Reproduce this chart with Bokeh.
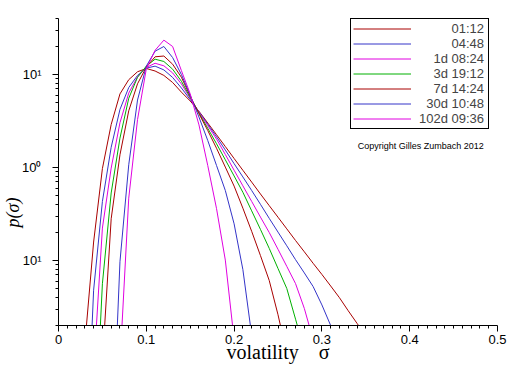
from bokeh.plotting import figure
from bokeh.models import FixedTicker, Label, Legend, LegendItem
from bokeh.embed import file_html
from bokeh.resources import INLINE

# volatility grid
sigma = [0.03, 0.04, 0.05, 0.06, 0.07, 0.08, 0.09, 0.10, 0.11, 0.12, 0.13,
         0.14, 0.15, 0.16, 0.17, 0.18, 0.19, 0.20, 0.21, 0.22, 0.23, 0.24,
         0.25, 0.26, 0.27, 0.28, 0.29, 0.30, 0.31, 0.32, 0.33, 0.34, 0.35]

# p(sigma) for each time horizon
p_01h12 = [0.0126, 0.158, 0.973, 2.90, 6.18, 8.79, 10.7, 11.6, 10.9, 9.77, 8.20,
           6.46, 5.19, 4.02, 3.01, 2.25, 1.68, 1.25, 0.933, 0.697, 0.519, 0.389,
           0.292, 0.219, 0.164, 0.124, 0.0933, 0.0708, 0.0532, 0.0398, 0.0288, 0.0211, 0.0155]
p_04h48 = [0.000316, 0.0479, 0.431, 1.65, 4.21, 7.24, 9.77, 11.7, 12.3, 11.2, 9.29,
           7.16, 5.37, 3.98, 2.92, 2.14, 1.54, 1.10, 0.791, 0.566, 0.402, 0.284,
           0.202, 0.144, 0.102, 0.0735, 0.0525, 0.0333, 0.0200, 0.0112, 0.005, 0.002, 0.001]
p_1d = [0.0001, 0.00646, 0.223, 0.986, 3.03, 6.31, 9.44, 11.9, 13.2, 12.4, 10.4,
        7.91, 5.55, 3.93, 2.82, 2.02, 1.38, 0.935, 0.635, 0.432, 0.293, 0.200,
        0.132, 0.0865, 0.0564, 0.0305, 0.0141, 0.0063, 0.002, 0.001, 0.0005, 0.0002, 0.0001]
p_3d = [0.0001, 0.00063, 0.0562, 0.532, 2.07, 5.55, 9.33, 12.3, 14.6, 13.8, 11.4,
        8.45, 5.68, 3.85, 2.64, 1.80, 1.21, 0.811, 0.541, 0.342, 0.216, 0.135,
        0.082, 0.0501, 0.0234, 0.0107, 0.005, 0.002, 0.001, 0.0005, 0.0002, 0.0001, 0.0001]
p_7d = [0.0001, 0.0001, 0.00794, 0.281, 1.37, 4.07, 7.94, 12.0, 15.5, 15.8, 12.9,
        9.33, 5.86, 3.78, 2.50, 1.61, 1.01, 0.631, 0.365, 0.206, 0.113, 0.061,
        0.0261, 0.01, 0.004, 0.001, 0.0001, 0.0001, 0.0001, 0.0001, 0.0001, 0.0001, 0.0001]
p_30d = [0.0001, 0.0001, 0.0001, 0.0005, 0.097, 1.07, 5.31, 12.3, 17.8, 20.0, 15.2,
         9.98, 6.0, 3.48, 1.95, 1.05, 0.566, 0.248, 0.0798, 0.0158, 0.00316, 0.0001,
         0.0001, 0.0001, 0.0001, 0.0001, 0.0001, 0.0001, 0.0001, 0.0001, 0.0001, 0.0001, 0.0001]
p_102d = [0.0001, 0.0001, 0.0001, 0.0001, 0.00776, 0.468, 3.27, 11.5, 18.2, 23.4, 20.0,
          11.0, 6.19, 2.87, 1.05, 0.361, 0.101, 0.0141, 0.001, 0.0001, 0.0001, 0.0001,
          0.0001, 0.0001, 0.0001, 0.0001, 0.0001, 0.0001, 0.0001, 0.0001, 0.0001, 0.0001, 0.0001]

series = [p_01h12, p_04h48, p_1d, p_3d, p_7d, p_30d, p_102d]
series_labels = ["01:12", "04:48", "1d 08:24", "3d 19:12", "7d 14:24", "30d 10:48", "102d 09:36"]
# leading figure spaces right-align the legend texts
label_pads = ["\u2007\u2007\u2007\u2007\u2008", "\u2007\u2007\u2007\u2007\u2008",
              "\u2007\u2007", "\u2007\u2007", "\u2007\u2007", "\u2007", ""]
series_colors = ["#a80000", "#3434c8", "#e000e0", "#00b000", "#a80000", "#3434c8", "#e000e0"]

x_ticks = [0, 0.1, 0.2, 0.3, 0.4, 0.5]
x_tick_labels = ["0", "0.1", "0.2", "0.3", "0.4", "0.5"]
x_minor = [i / 100 for i in range(1, 50) if i % 10]
y_ticks = [0.1, 1, 10]
y_tick_labels = ["10\u00b9", "10\u2070", "10\u00b9"]
y_minor = [k * m for m in (0.01, 0.1, 1, 10) for k in range(2, 10) if 0.02 <= k * m <= 40.0001]

x_title = "volatility\u2002\u2002\u03c3"
# trailing figure spaces move the (centred) y title down, as in the original
y_title = "p(\u03c3)" + "\u2007" * 9

p = figure(width=512, height=366, x_range=(0, 0.5), y_range=(0.02, 40),
           y_axis_type="log", output_backend="svg", toolbar_location=None,
           min_border_left=57, min_border_right=15, min_border_top=18, min_border_bottom=41)
p.outline_line_color = None
p.xgrid.visible = False
p.ygrid.visible = False
p.background_fill_color = "white"

renderers = []
for ys, c in zip(series, series_colors):
    renderers.append(p.line(sigma, ys, line_color=c, line_width=1))

for ax in (p.xaxis[0], p.yaxis[0]):
    ax.axis_line_color = "black"
    ax.major_tick_line_color = "black"
    ax.minor_tick_line_color = "black"
    ax.major_tick_in = 0
    ax.major_tick_out = 6
    ax.minor_tick_in = 0
    ax.minor_tick_out = 3
    ax.major_label_text_font = "Liberation Sans"
    ax.major_label_text_font_size = "13px"
    ax.major_label_text_color = "black"
    ax.axis_label_text_font = "Liberation Serif"
    ax.axis_label_text_color = "black"

xa = p.xaxis[0]
xa.ticker = FixedTicker(ticks=x_ticks, minor_ticks=x_minor)
xa.major_label_overrides = dict(zip(x_ticks, x_tick_labels))
xa.major_label_standoff = 3
xa.axis_label = x_title
xa.axis_label_text_font_size = "20px"
xa.axis_label_text_font_style = "normal"
xa.axis_label_standoff = -6

ya = p.yaxis[0]
ya.ticker = FixedTicker(ticks=y_ticks, minor_ticks=y_minor)
ya.major_label_overrides = dict(zip(y_ticks, y_tick_labels))
ya.major_label_standoff = 11
ya.axis_label = y_title
ya.axis_label_text_font_size = "18px"
ya.axis_label_text_font_style = "italic"
ya.axis_label_standoff = -4

p.add_layout(Label(x=0.4125, y=1.72, text="Copyright Gilles Zumbach 2012",
                   text_font="Liberation Sans", text_font_size="9px",
                   text_align="center", text_baseline="middle", text_color="black"))

legend = Legend(items=[LegendItem(label=pad + lab, renderers=[r])
                       for pad, lab, r in zip(label_pads, series_labels, renderers)],
                location=(292, 196), margin=0, padding=2, spacing=0,
                glyph_width=58, glyph_height=13, label_height=13, label_width=67,
                label_standoff=8, label_text_font="Liberation Sans",
                label_text_font_size="13px", border_line_color="black",
                border_line_width=1, border_line_alpha=1.0,
                background_fill_color="white", background_fill_alpha=1.0)
p.add_layout(legend)

open("out.html", "w").write(file_html(p, INLINE))
